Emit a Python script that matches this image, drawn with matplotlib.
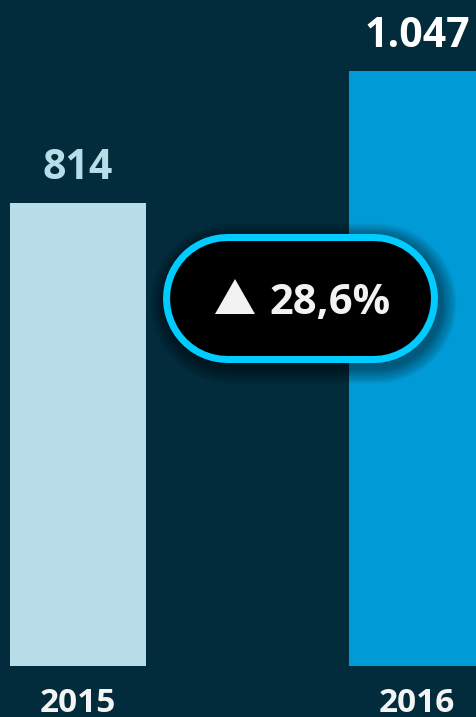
import matplotlib
matplotlib.use("Agg")
import matplotlib.pyplot as plt
from matplotlib.patches import Polygon

years = ["2015", "2016"]
values = [814, 1047]
value_labels = ["814", "1.047"]
change_label = "28,6%"

bg = "#022b3c"
bar_colors = ["#b7dde8", "#009ad6"]
label_colors = ["#b7dde8", "#ffffff"]

W, H = 477, 717
DPI = 100
PT = 72 / DPI  # points per pixel
fig = plt.figure(figsize=(W / DPI, H / DPI), dpi=DPI, facecolor=bg)
ax = fig.add_axes([0, 0, 1, 1])
ax.set_facecolor(bg)

x = [0, 1]
ax.bar(x, values, width=0.401, color=bar_colors)
ax.set_xlim(-0.230, 1.177)
ax.set_ylim(-89.7, 1171.9)
ax.axis("off")

fam = ["Open Sans", "DejaVu Sans"]
for xi, v, lab, c in zip(x, values, value_labels, label_colors):
    ax.annotate(lab, (xi, v), xytext=(0, 24), textcoords="offset pixels",
                ha="center", va="baseline", fontsize=29.5, fontweight="bold",
                color=c, family=fam)
for xi, yr in zip(x, years):
    ax.annotate(yr, (xi, 0), xytext=(0, -46), textcoords="offset pixels",
                ha="center", va="baseline", fontsize=24, fontweight="bold",
                color="#f4f4f4", family=fam)

# badge overlay in pixel coordinates
ov = fig.add_axes([0, 0, 1, 1])
ov.set_xlim(0, W)
ov.set_ylim(H, 0)
ov.axis("off")
ov.patch.set_alpha(0)

ox0, oy0, ox1, oy1 = 163, 233, 438, 362
hgt = oy1 - oy0
r = hgt / 2
yc = (oy0 + oy1) / 2
xa, xb = ox0 + r, ox1 - r
# soft shadow
for i in range(7):
    g = 2 + i * 2.2
    ov.plot([xa + 3, xb + 3], [yc + 5, yc + 5], color="black", alpha=0.07,
            lw=(hgt + 2 * g) * PT, solid_capstyle="round", zorder=1)
ov.plot([xa, xb], [yc, yc], color="#00ccff", lw=hgt * PT, solid_capstyle="round", zorder=2)
ov.plot([xa, xb], [yc, yc], color="black", lw=(hgt - 14) * PT, solid_capstyle="round", zorder=3)

tri = Polygon([[215, 314], [255, 314], [235, 279]], closed=True,
              facecolor="#f2f2f2", edgecolor="none", zorder=4)
ov.add_patch(tri)
ov.text(269, 314, change_label, ha="left", va="baseline",
        fontsize=30, fontweight="bold", color="#f2f2f2", family=fam, zorder=5)

fig.savefig("out.png", dpi=DPI, facecolor=bg)
